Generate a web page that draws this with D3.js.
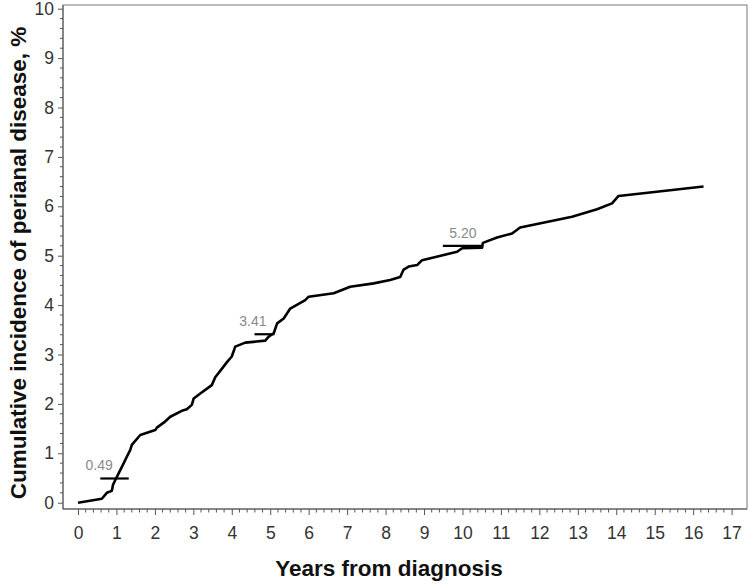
<!DOCTYPE html>
<html>
<head>
<meta charset="utf-8">
<script src="https://cdn.jsdelivr.net/npm/d3@7"></script>
<style>
  body { margin: 0; background: #fff; }
  svg { display: block; font-family: Arial, "Liberation Sans", sans-serif; }
</style>
</head>
<body>
<div id="chart"></div>
<script>
// ---- Data ----
const years = [0, 0.62, 0.75, 0.88, 0.91, 0.97, 1.06, 1.19, 1.27, 1.36, 1.40, 1.62, 2.01, 2.05, 2.23,
  2.40, 2.70, 2.83, 2.96, 3.01, 3.18, 3.48, 3.57, 3.75, 3.88, 4.00, 4.09, 4.35, 4.87, 4.96, 5.09,
  5.18, 5.35, 5.52, 5.91, 6.00, 6.65, 7.08, 7.69, 8.12, 8.38, 8.47, 8.60, 8.82, 8.95, 9.38, 9.86,
  9.99, 10.51, 10.53, 10.90, 11.29, 11.50, 12.85, 13.50, 13.89, 14.06, 16.27];
const incidence = [0, 0.08, 0.20, 0.24, 0.36, 0.46, 0.60, 0.80, 0.93, 1.07, 1.17, 1.37, 1.47, 1.52, 1.62,
  1.74, 1.86, 1.89, 1.98, 2.11, 2.21, 2.38, 2.54, 2.72, 2.85, 2.96, 3.16, 3.24, 3.28, 3.36, 3.43,
  3.63, 3.73, 3.93, 4.10, 4.17, 4.24, 4.37, 4.44, 4.51, 4.57, 4.72, 4.78, 4.81, 4.91, 4.99, 5.08,
  5.15, 5.16, 5.26, 5.37, 5.45, 5.57, 5.79, 5.94, 6.06, 6.21, 6.40];

// Marked estimates at 1, 5 and 10 years
const markYears  = [1, 5, 10];
const markValues = [0.49, 3.41, 5.20];
const markLabels = ["0.49", "3.41", "5.20"];

const xTicks = d3.range(0, 18);
const yTicks = d3.range(0, 11);

// ---- Layout ----
const W = 750, H = 584;
const frame = { left: 63, right: 747, top: 5, bottom: 509 };

const svg = d3.select("#chart").append("svg")
  .attr("width", W).attr("height", H);

const x = d3.scaleLinear().domain([0, 17]).range([78, 731.6]);
const y = d3.scaleLinear().domain([0, 10]).range([502.7, 8.7]);

// ---- Frame (top/right) ----
svg.append("rect")
  .attr("x", frame.left).attr("y", frame.top)
  .attr("width", frame.right - frame.left).attr("height", frame.bottom - frame.top)
  .attr("fill", "none").attr("stroke", "#777").attr("stroke-width", 1);

// ---- X axis: major + minor ticks ----
const xMinor = d3.range(0, 17.01, 0.2).filter(v => Math.abs(v - Math.round(v)) > 1e-6);
const xAxisG = svg.append("g").attr("transform", `translate(0,${frame.bottom})`);
xAxisG.call(d3.axisBottom(x).tickValues(xTicks).tickSize(6).tickSizeOuter(0).tickPadding(12))
  .call(g => g.select(".domain").remove());
xAxisG.selectAll(".minor").data(xMinor).join("line")
  .attr("class", "minor")
  .attr("x1", d => x(d)).attr("x2", d => x(d))
  .attr("y1", 0).attr("y2", 3.5)
  .attr("stroke", "#555");
xAxisG.append("line")
  .attr("x1", frame.left).attr("x2", frame.right)
  .attr("stroke", "#555");

// ---- Y axis ----
const yMinor = d3.range(0, 10.01, 0.2).filter(v => Math.abs(v - Math.round(v)) > 1e-6);
const yAxisG = svg.append("g").attr("transform", `translate(${frame.left},0)`);
yAxisG.call(d3.axisLeft(y).tickValues(yTicks).tickSize(5).tickSizeOuter(0).tickPadding(4))
  .call(g => g.select(".domain").remove());
yAxisG.selectAll(".minor").data(yMinor).join("line")
  .attr("class", "minor")
  .attr("y1", d => y(d)).attr("y2", d => y(d))
  .attr("x1", 0).attr("x2", -3)
  .attr("stroke", "#555");
yAxisG.append("line")
  .attr("y1", frame.top).attr("y2", frame.bottom)
  .attr("stroke", "#555");

svg.selectAll(".tick line").attr("stroke", "#555");
svg.selectAll(".tick text")
  .attr("font-size", 17.5)
  .attr("fill", "#333")
  .attr("font-family", "Arial, 'Liberation Sans', sans-serif");

// ---- Cumulative incidence curve ----
const pts = years.map((t, i) => [t, incidence[i]]);
svg.append("path")
  .datum(pts)
  .attr("fill", "none")
  .attr("stroke", "#000")
  .attr("stroke-width", 2.6)
  .attr("stroke-linejoin", "round")
  .attr("d", d3.line().x(d => x(d[0])).y(d => y(d[1])));

// ---- Estimate markers with labels ----
const markHalf  = [0.37, 0.26, 0.52];   // half-width of each marker in years
const labelDx   = [-0.4, -0.3, 0];      // label offset from marker centre
const markCentre = [0.95, 4.85, 10.01];
markYears.forEach((t, i) => {
  svg.append("line")
    .attr("x1", x(markCentre[i] - markHalf[i])).attr("x2", x(markCentre[i] + markHalf[i]))
    .attr("y1", y(markValues[i])).attr("y2", y(markValues[i]))
    .attr("stroke", "#000").attr("stroke-width", 2.2);
  svg.append("text")
    .attr("x", x(markCentre[i] + labelDx[i]))
    .attr("y", y(markValues[i]) - 8)
    .attr("text-anchor", "middle")
    .attr("font-size", 14)
    .attr("fill", "#8a8a8a")
    .text(markLabels[i]);
});

// ---- Axis titles ----
svg.append("text")
  .attr("x", 389)
  .attr("y", 576)
  .attr("text-anchor", "middle")
  .attr("font-size", 22.5)
  .attr("font-weight", "bold")
  .attr("fill", "#111")
  .text("Years from diagnosis");

svg.append("text")
  .attr("transform", `translate(26,263) rotate(-90)`)
  .attr("text-anchor", "middle")
  .attr("font-size", 22.5)
  .attr("font-weight", "bold")
  .attr("fill", "#111")
  .text("Cumulative incidence of perianal disease, %");
</script>
</body>
</html>
